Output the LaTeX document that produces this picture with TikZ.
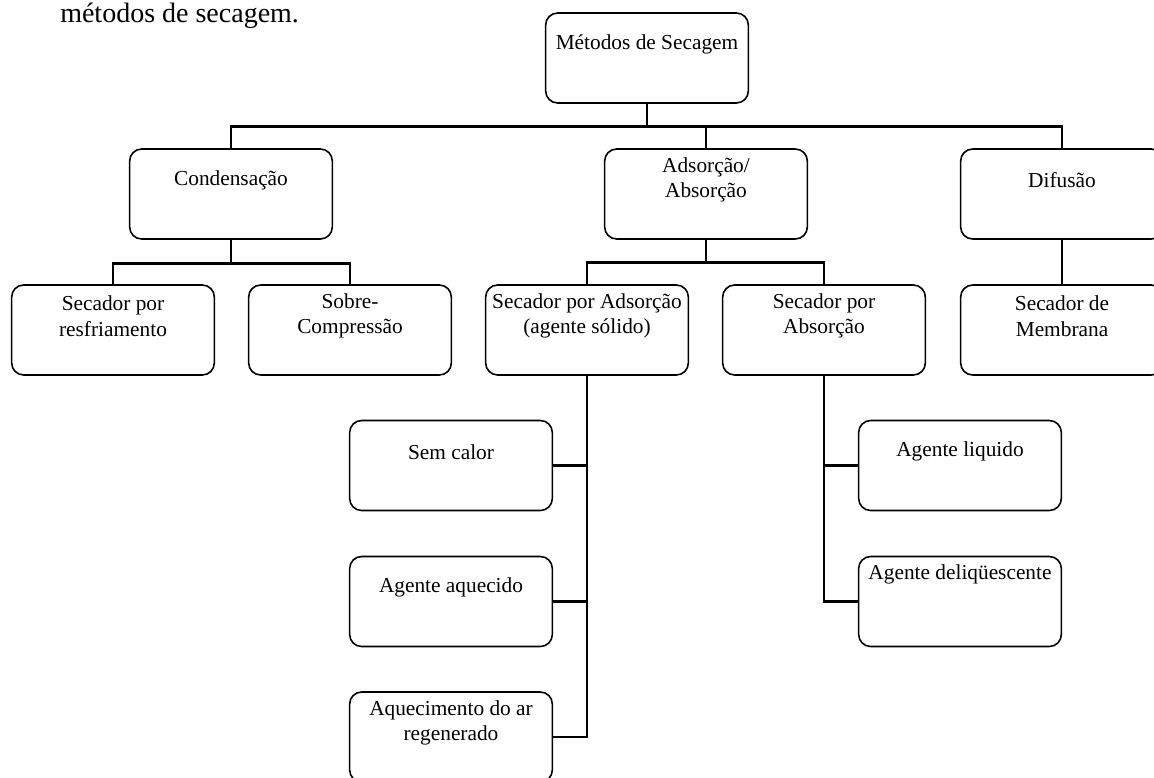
\documentclass[tikz,border=0pt]{standalone}
\usepackage{fontspec}
\setmainfont{Liberation Serif}
\usepackage{tikz}

\begin{document}
\begin{tikzpicture}[x=0.75pt,y=-0.75pt]
\tikzstyle{every node}+=[inner sep=0pt]
\tikzstyle{caixa}=[draw, line width=1.2pt, rounded corners=9pt, minimum width=152pt, minimum height=67.5pt]
\tikzstyle{rotulo}=[align=center, font=\fontsize{16}{19}\selectfont]
\tikzstyle{liga}=[line width=2pt]
\useasboundingbox (0,0) rectangle (1154,778);
\node [anchor=base west, font=\fontsize{21}{25}\selectfont] (legenda) at (60,22) {métodos de secagem.};
% caixas
\node [caixa] (topo) at (647,58) {};
\node [rotulo] (topo-t) at ([yshift=-24pt]topo.north) {Métodos de Secagem};
\node [caixa] (cond) at (231,194) {};
\node [rotulo] (cond-t) at ([yshift=-24pt]cond.north) {Condensação};
\node [caixa] (ads) at (706,194) {};
\node [rotulo] (ads-t) at ([yshift=-24pt]ads.north) {Adsorção/\\Absorção};
\node [caixa] (dif) at (1062,194) {};
\node [rotulo] (dif-t) at ([yshift=-24pt]dif.north) {Difusão};
\node [caixa] (resf) at (113,330) {};
\node [rotulo] (resf-t) at ([yshift=-24pt]resf.north) {Secador por\\resfriamento};
\node [caixa] (sobre) at (350,330) {};
\node [rotulo] (sobre-t) at ([yshift=-24pt]sobre.north) {Sobre-\\Compressão};
\node [caixa] (sads) at (587,330) {};
\node [rotulo] (sads-t) at ([yshift=-24pt]sads.north) {Secador por Adsorção\\(agente sólido)};
\node [caixa] (sabs) at (824,330) {};
\node [rotulo] (sabs-t) at ([yshift=-24pt]sabs.north) {Secador por\\Absorção};
\node [caixa] (memb) at (1062,330) {};
\node [rotulo] (memb-t) at ([yshift=-24pt]memb.north) {Secador de\\Membrana};
\node [caixa] (sem) at (451,465.5) {};
\node [rotulo] (sem-t) at ([yshift=-24pt]sem.north) {Sem calor};
\node [caixa] (aqu) at (451,601.5) {};
\node [rotulo] (aqu-t) at ([yshift=-24pt]aqu.north) {Agente aquecido};
\node [caixa] (aqr) at (451,737) {};
\node [rotulo] (aqr-t) at ([yshift=-24pt]aqr.north) {Aquecimento do ar\\regenerado};
\node [caixa] (liq) at (960,465.5) {};
\node [rotulo] (liq-t) at ([yshift=-24pt]liq.north) {Agente liquido};
\node [caixa] (del) at (960,601.5) {};
\node [rotulo] (del-t) at ([yshift=-14pt]del.north) {Agente deliqüescente};
% ligacoes
\draw [liga] (topo.south) -- ++(0,23) -| (cond.north);
\draw [liga] (topo.south) -- ++(0,23) -| (ads.north);
\draw [liga] (topo.south) -- ++(0,23) -| (dif.north);
\draw [liga] (cond.south) -- ++(0,24) -| (resf.north);
\draw [liga] (cond.south) -- ++(0,24) -| (sobre.north);
\draw [liga] (ads.south) -- ++(0,23) -| (sads.north);
\draw [liga] (ads.south) -- ++(0,23) -| (sabs.north);
\draw [liga] (dif.south) -- (memb.north);
\draw [liga] (sads.south) |- (sem.east);
\draw [liga] (sads.south) |- (aqu.east);
\draw [liga] (sads.south) |- (aqr.east);
\draw [liga] (sabs.south) |- (liq.west);
\draw [liga] (sabs.south) |- (del.west);
\end{tikzpicture}
\end{document}
